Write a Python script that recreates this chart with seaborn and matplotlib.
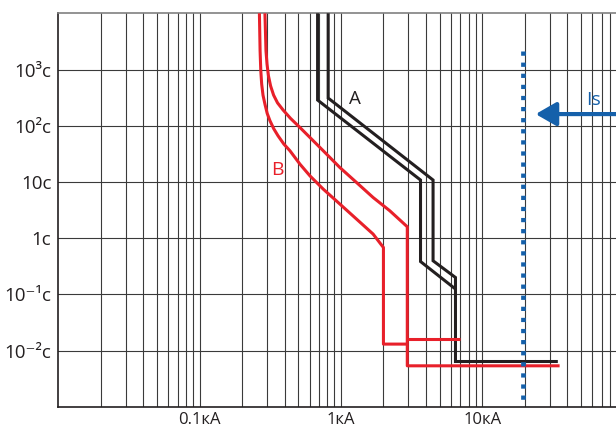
import numpy as np
import pandas as pd
import seaborn as sns
import matplotlib.pyplot as plt
from matplotlib.ticker import FixedLocator, LogLocator, NullFormatter

# current in kA, time in seconds
a_left_I = [0.684, 0.684, 3.66, 3.66, 6.47, 6.47, 34.3]
a_left_t = [1e4, 286, 10.8, 0.383, 0.124, 0.00637, 0.00637]
a_right_I = [0.813, 0.813, 4.49, 4.49, 6.47, 6.47]
a_right_t = [1e4, 310, 10.8, 0.395, 0.199, 0.124]

b_upper_I = [0.290, 0.295, 0.300, 0.307, 0.318, 0.334, 0.356, 0.390, 0.440, 0.513, 0.604,
             0.750, 0.984, 1.29, 1.69, 2.22, 2.95, 2.95, 35.3]
b_upper_t = [1e4, 2150, 1250, 773, 510, 350, 255, 190, 135, 92.9, 61.7,
             35.8, 18.0, 9.76, 5.28, 3.06, 1.59, 0.00534, 0.00534]
b_lower_I = [0.265, 0.268, 0.271, 0.275, 0.281, 0.290, 0.301, 0.315, 0.335, 0.359,
             0.395, 0.436, 0.513, 0.604, 0.750, 0.984, 1.29, 1.69, 2.0, 2.0, 2.95]
b_lower_t = [1e4, 2150, 960, 550, 350, 242, 165, 122, 88, 66.1,
             47, 35.8, 20.7, 12.8, 7.44, 4.03, 2.18, 1.18, 0.68, 0.0130, 0.0130]
b_ledge_I = [2.95, 7.01]
b_ledge_t = [0.0160, 0.0160]

is_current = 19.6          # kA, dotted line
is_span = [2150, 0.00124]
arrow_tip = (23.9, 161)

x_ticks = [0.1, 1, 10]
x_labels = ["0.1кА", "1кА", "10кА"]
y_ticks = [1e-2, 1e-1, 1, 10, 100, 1000]
y_labels = ["10⁻²с", "10⁻¹с", "1с", "10с", "10²с", "10³с"]

BLACK = "#231f20"
RED = "#e8202a"
BLUE = "#1560aa"

sns.set_style("white")
plt.rcParams['font.family'] = ['Open Sans', 'DejaVu Sans']

fig = plt.figure(figsize=(6.16, 4.28), dpi=100)
ax = fig.add_axes([58.3 / 616, 21.3 / 428, 565.2 / 616, 393.4 / 428])
ax.set_xscale("log")
ax.set_yscale("log")


def curve(xs, ts, color, z, join="miter"):
    df = pd.DataFrame({"I": xs, "t": ts})
    sns.lineplot(data=df, x="I", y="t", sort=False, estimator=None, color=color,
                 lw=2.2, ax=ax, zorder=z, solid_joinstyle=join, solid_capstyle="butt")


curve(a_left_I, a_left_t, BLACK, 3)
curve(a_right_I, a_right_t, BLACK, 3)
curve(b_upper_I, b_upper_t, RED, 4, "round")
curve(b_lower_I, b_lower_t, RED, 4, "round")
curve(b_ledge_I, b_ledge_t, RED, 4)

ax.plot([is_current, is_current], is_span, color=BLUE, lw=3.4,
        ls=(0, (0.9, 1.45)), dash_capstyle="butt", zorder=5)
ax.annotate("", xy=arrow_tip, xytext=(150, arrow_tip[1]),
            arrowprops=dict(arrowstyle="-|>,head_length=12.5,head_width=7.2",
                            mutation_scale=1, lw=3, color=BLUE, shrinkA=0, shrinkB=0),
            zorder=5)

ax.text(1.25, 301, "A", color=BLACK, fontsize=13.5, ha="center", va="center")
ax.text(0.353, 16.4, "B", color=RED, fontsize=14, ha="center", va="center")
ax.text(61.4, 286, "Is", color=BLUE, fontsize=14, ha="center", va="center")

ax.set_xlim(0.01, 100)
ax.set_ylim(1e-3, 1e4)
ax.xaxis.set_major_locator(FixedLocator(x_ticks))
ax.xaxis.set_minor_locator(LogLocator(base=10, subs=np.arange(2, 10)))
ax.xaxis.set_minor_formatter(NullFormatter())
ax.set_xticklabels(x_labels)
ax.yaxis.set_major_locator(FixedLocator(y_ticks))
ax.yaxis.set_minor_locator(FixedLocator([]))
ax.set_yticklabels(y_labels)
ax.tick_params(axis="x", which="both", length=0, pad=3.5, labelsize=12, colors=BLACK)
ax.tick_params(axis="y", which="both", length=0, pad=5, labelsize=13.5, colors=BLACK)

ax.grid(True, axis="x", which="both", color="#3a3a3a", lw=0.8)
ax.grid(True, axis="y", which="major", color="#3a3a3a", lw=0.8)
ax.set_axisbelow(True)
ax.set_xlabel("")
ax.set_ylabel("")

for side in ["left", "bottom"]:
    ax.spines[side].set_color(BLACK)
    ax.spines[side].set_linewidth(1.2)
ax.spines["top"].set_color("#808080")
ax.spines["top"].set_linewidth(1.2)
ax.spines["right"].set_visible(False)

fig.savefig("out.png", dpi=100)
